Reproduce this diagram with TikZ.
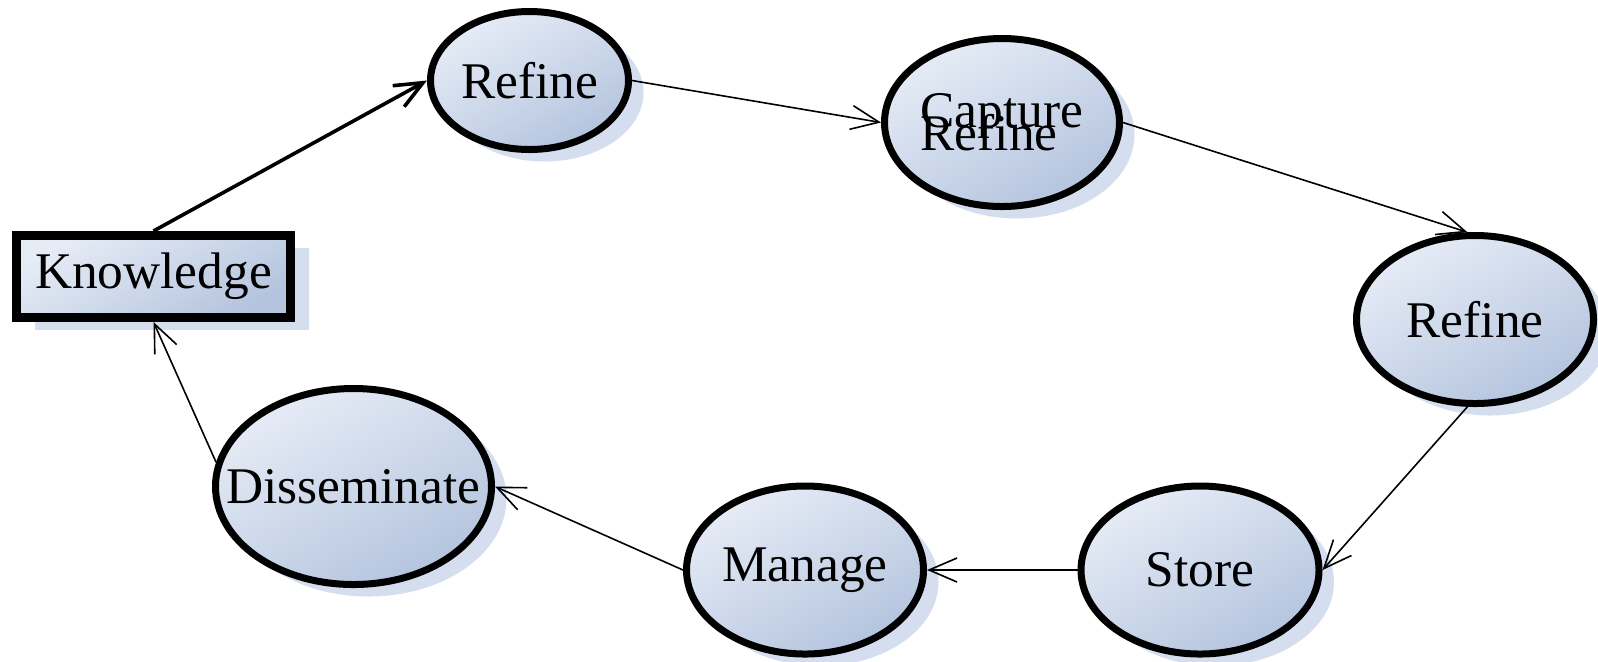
\documentclass[tikz,border=0pt]{standalone}
\usepackage{fontspec}
\setmainfont{Liberation Serif}
\usepackage{xcolor}
\usetikzlibrary{arrows.meta}
\usetikzlibrary{shapes.geometric, shadows}

\definecolor{fillA}{HTML}{E6ECF6}
\definecolor{fillB}{HTML}{B4C4DE}
\definecolor{shadowblue}{HTML}{D4DEEE}

\begin{document}
\begin{tikzpicture}[x=0.5pt, y=-0.5pt,
  stage/.style={ellipse, draw=black, line width=3.5pt, inner sep=0pt,
    top color=fillA, bottom color=fillB, shading angle=30,
    drop shadow={shadow xshift=7.5pt, shadow yshift=-6pt, fill=shadowblue, opacity=1},
    font=\fontsize{25.7}{30.8}\selectfont},
  topic/.style={rectangle, draw=black, line width=4.5pt, inner sep=0pt,
    top color=fillA, bottom color=fillB, shading angle=30,
    drop shadow={shadow xshift=9pt, shadow yshift=-6pt, fill=shadowblue, opacity=1},
    font=\fontsize{25.7}{30.8}\selectfont},
  flow/.style={-{Straight Barb[length=14pt, width=12pt]}, line width=0.8pt}
]
\useasboundingbox (0,0) rectangle (1598,661);

\node[topic, minimum width=137pt, minimum height=41pt] (knowledge) at (153.5,276.5) {Knowledge};
\node[stage, minimum width=99pt, minimum height=69pt] (refineA) at (529.5,80.5) {Refine};
\node[stage, minimum width=117.5pt, minimum height=84pt, align=left] (capture) at (1002,122.5) {Capture\\[-19.3pt]Refine};
\node[stage, minimum width=118.5pt, minimum height=84pt] (refineB) at (1475,319.5) {Refine};
\node[stage, minimum width=119pt, minimum height=84pt] (store) at (1200,570) {Store};
\node[stage, minimum width=118.5pt, minimum height=84pt] (manage) at (805,570) {\makebox[0pt]{Manage}};
\node[stage, minimum width=138pt, minimum height=98pt] (dissem) at (353.5,486.5) {\makebox[0pt]{Disseminate}};

\draw[flow, line width=1.8pt] (knowledge.north) -- (refineA.west);
\draw[flow] (refineA.east) -- (capture.west);
\draw[flow] (capture.east) -- (refineB.95);
\draw[flow] (refineB.265) -- (store.east);
\draw[flow] (store.west) -- (manage.east);
\draw[flow] (manage.west) -- (dissem.east);
\draw[flow] (dissem.170) -- (knowledge.south);
\end{tikzpicture}
\end{document}
